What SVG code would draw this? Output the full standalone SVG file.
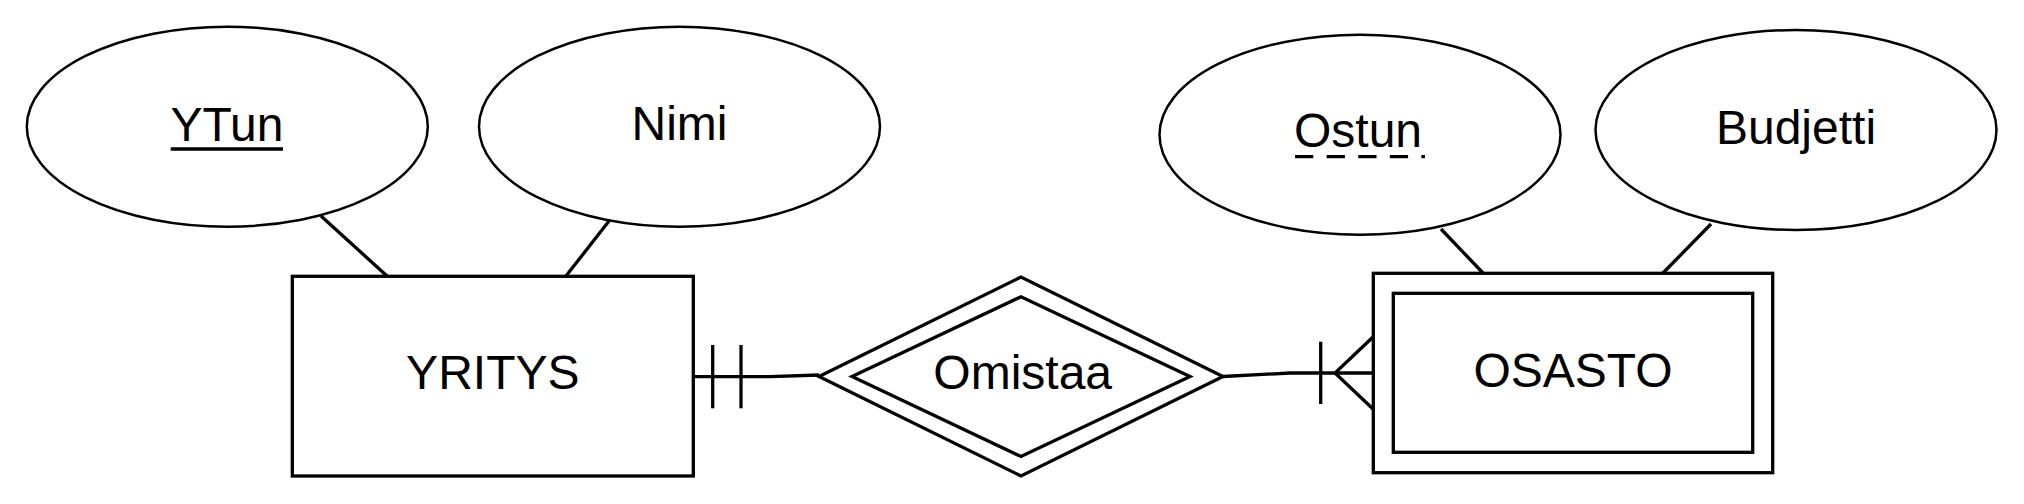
<svg xmlns="http://www.w3.org/2000/svg" width="2024" height="504" viewBox="0 0 2024 504">
<style>
.ell{fill:#fff;stroke:#000;stroke-width:2.5}
.box{fill:#fff;stroke:#000;stroke-width:3.3}
.ln{fill:none;stroke:#000;stroke-width:3.3}
.lbl{font-family:"Liberation Sans",Arial,sans-serif;font-size:48px;fill:#000;text-anchor:middle}
</style>
<rect width="2024" height="504" fill="#fff"/>
<g id="connectors">
<line class="ln" x1="321" y1="216" x2="387" y2="276"/>
<line class="ln" x1="609" y1="221" x2="566" y2="276"/>
<line class="ln" x1="1441" y1="229" x2="1483" y2="273"/>
<line class="ln" x1="1711" y1="224" x2="1663" y2="273"/>
<polyline class="ln" points="693,376.7 770,376.7 819,375"/>
<line class="ln" x1="712.7" y1="345" x2="712.7" y2="408.3"/>
<line class="ln" x1="741" y1="345" x2="741" y2="408.3"/>
<polyline class="ln" points="1223,376.5 1290,373 1373,373"/>
<line class="ln" x1="1320.7" y1="341.7" x2="1320.7" y2="404"/>
<polyline class="ln" points="1373,337 1335,373 1373,409"/>
</g>
<g id="attr-ytun">
<ellipse class="ell" cx="227.3" cy="126.7" rx="200.5" ry="100"/>
<text class="lbl" x="227" y="140.7">YTun</text>
<line x1="170.7" y1="149" x2="283" y2="149" stroke="#000" stroke-width="3.3"/>
</g>
<g id="attr-nimi">
<ellipse class="ell" cx="679.5" cy="126.7" rx="200.5" ry="100"/>
<text class="lbl" x="679.5" y="140">Nimi</text>
</g>
<g id="attr-ostun">
<ellipse class="ell" cx="1360" cy="134.7" rx="200.5" ry="100"/>
<text class="lbl" x="1358" y="146.7">Ostun</text>
<line x1="1295" y1="156.7" x2="1425" y2="156.7" stroke="#000" stroke-width="3.3" stroke-dasharray="18.3 13.3"/>
</g>
<g id="attr-budjetti">
<ellipse class="ell" cx="1796" cy="130" rx="200.5" ry="100"/>
<text class="lbl" x="1796" y="143.5">Budjetti</text>
</g>
<g id="entity-yritys">
<rect class="box" x="292.3" y="276.3" width="401" height="199.7"/>
<text class="lbl" x="492.8" y="389.3">YRITYS</text>
</g>
<g id="rel-omistaa">
<polygon class="box" points="819,376.5 1021,277 1223,376.5 1021,476"/>
<polygon class="box" points="852,376.5 1021,296.7 1190,376.5 1021,456.5"/>
<text class="lbl" x="1022.7" y="389">Omistaa</text>
</g>
<g id="entity-osasto">
<rect class="box" x="1373.3" y="273.3" width="399.4" height="199.4"/>
<rect class="box" x="1393.3" y="293.3" width="359.4" height="159"/>
<text class="lbl" x="1573" y="386.5">OSASTO</text>
</g>
</svg>
